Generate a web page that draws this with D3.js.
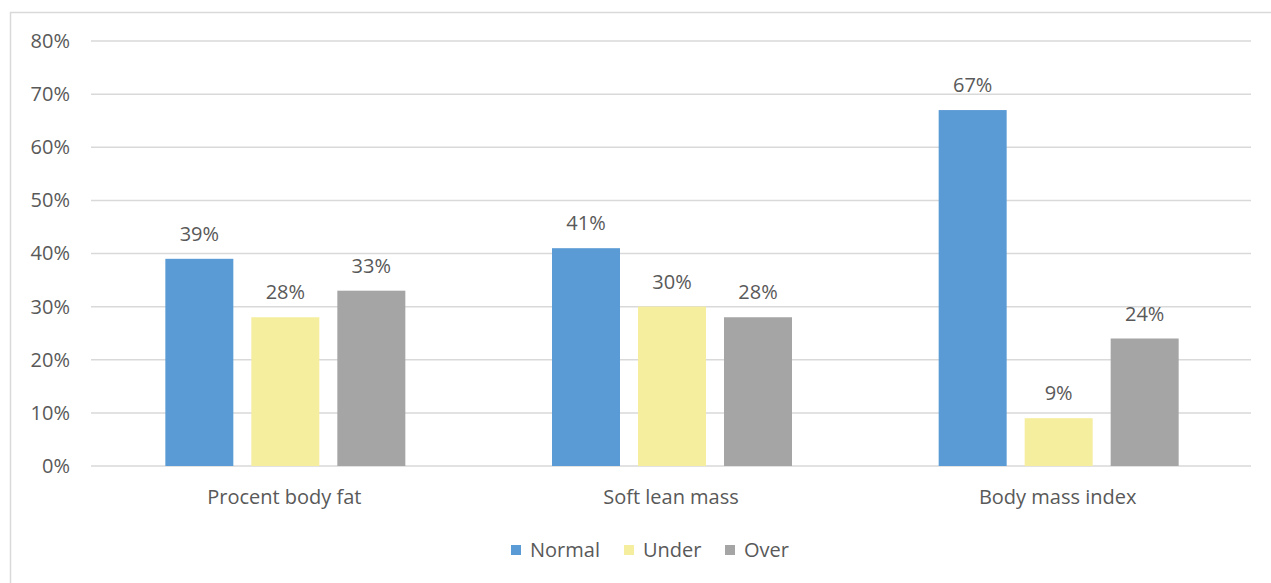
<!DOCTYPE html>
<html lang="en">
    <head>
        <meta charset="utf-8">
        <title>Body composition</title>
        <script type="text/javascript" src="https://d3js.org/d3.v7.min.js"></script>
        <style>
            body {
                margin: 0;
                background: #fff;
            }
            svg text {
                font-family: "Open Sans", "Noto Sans", sans-serif;
                fill: #595959;
            }
            .axis .domain, .axis line {
                display: none
            }
        </style>
    </head>
    <body>
        <script>
            // data
            const categories = ["Procent body fat", "Soft lean mass", "Body mass index"];
            const series = ["Normal", "Under", "Over"];
            const normal = [39, 41, 67];
            const under = [28, 30, 9];
            const over = [33, 28, 24];
            const yTicks = [0, 10, 20, 30, 40, 50, 60, 70, 80];
            const colors = ["#5b9bd5", "#f5ee9e", "#a5a5a5"];

            const values = [normal, under, over];
            const fontSize = "20px";

            // draw svg
            const w = 1271;
            const h = 583;
            const svg = d3.select("body")
                        .append("svg")
                        .attr("width", w)
                        .attr("height", h)

            // chart border
            svg.append("rect")
                .attr("x", 10.5)
                .attr("y", 12.5)
                .attr("width", w + 10)
                .attr("height", h + 10)
                .attr("fill", "none")
                .attr("stroke", "#d9d9d9")
                .attr("stroke-width", 1.5)

            const plotLeft = 91, plotRight = 1251, plotTop = 41, plotBottom = 466;

            // scales
            const xScale = d3.scaleBand()
                            .domain(categories)
                            .range([plotLeft, plotRight])
            const groupWidth = 240;
            const xInner = d3.scaleBand()
                            .domain(series)
                            .range([0, groupWidth])
                            .paddingInner(0.2093)
            const yScale = d3.scaleLinear()
                            .domain([0, 80])
                            .range([plotBottom, plotTop])

            // gridlines
            svg.append("g")
                .selectAll("line")
                .data(yTicks)
                .enter()
                .append("line")
                .attr("x1", plotLeft)
                .attr("x2", plotRight)
                .attr("y1", d => yScale(d))
                .attr("y2", d => yScale(d))
                .attr("stroke", "#d9d9d9")
                .attr("stroke-width", 1.5)

            // y axis
            const yAxis = d3.axisLeft(yScale)
                            .tickValues(yTicks)
                            .tickFormat(d => d + "%")
                            .tickSize(0)
                            .tickPadding(0)
            svg.append("g")
                .attr("class", "axis")
                .attr("transform", "translate(70,0)")
                .call(yAxis)
                .selectAll("text")
                .style("font-size", fontSize)
                .attr("fill", null)

            // bars
            const groups = svg.selectAll("g.grp")
                .data(categories)
                .enter()
                .append("g")
                .attr("class", "grp")
                .attr("transform", d => `translate(${xScale(d) + (xScale.bandwidth() - groupWidth) / 2 + 1},0)`)

            groups.selectAll("rect")
                .data((d, i) => series.map((s, j) => ({s: s, v: values[j][i], c: colors[j]})))
                .enter()
                .append("rect")
                .attr("x", d => xInner(d.s))
                .attr("y", d => yScale(d.v))
                .attr("width", xInner.bandwidth())
                .attr("height", d => plotBottom - yScale(d.v))
                .attr("fill", d => d.c)

            // value labels
            groups.selectAll("text")
                .data((d, i) => series.map((s, j) => ({s: s, v: values[j][i]})))
                .enter()
                .append("text")
                .attr("x", d => xInner(d.s) + xInner.bandwidth() / 2)
                .attr("y", d => yScale(d.v) - 18)
                .attr("text-anchor", "middle")
                .style("font-size", fontSize)
                .text(d => d.v + "%")

            // x axis
            const xAxis = d3.axisBottom(xScale)
                            .tickSize(0)
                            .tickPadding(0)
            svg.append("g")
                .attr("class", "axis")
                .attr("transform", `translate(0,${plotBottom + 24})`)
                .call(xAxis)
                .selectAll("text")
                .style("font-size", fontSize)
                .attr("fill", null)

            // legend
            const legendX = [511, 624, 725];
            const legend = svg.append("g")
            series.forEach((s, j) => {
                legend.append("rect")
                    .attr("x", legendX[j])
                    .attr("y", 545)
                    .attr("width", 10)
                    .attr("height", 10)
                    .attr("fill", colors[j])
                legend.append("text")
                    .attr("x", legendX[j] + 19)
                    .attr("y", 557)
                    .style("font-size", fontSize)
                    .text(s)
            })
        </script>
    </body>
</html>
